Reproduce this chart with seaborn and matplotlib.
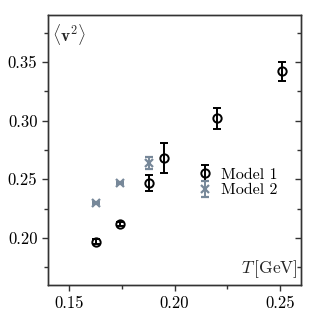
import matplotlib
matplotlib.use("Agg")
import matplotlib.pyplot as plt
import seaborn as sns
import numpy as np
import pandas as pd
from matplotlib.ticker import MultipleLocator, FormatStrFormatter

# Data
m1_T = [0.163, 0.174, 0.188, 0.195, 0.220, 0.251]
m1_v2 = [0.197, 0.212, 0.247, 0.268, 0.302, 0.342]
m1_err = [0.002, 0.002, 0.007, 0.013, 0.009, 0.008]

m2_T = [0.163, 0.174, 0.188]
m2_v2 = [0.230, 0.247, 0.264]
m2_err = [0.001, 0.001, 0.005]

labels = ["Model 1", "Model 2"]

sns.set_theme(style="ticks")
plt.rcParams["font.family"] = "serif"
plt.rcParams["font.serif"] = ["cmr10", "DejaVu Serif"]
plt.rcParams["mathtext.fontset"] = "cm"
plt.rcParams["axes.formatter.use_mathtext"] = True

fig = plt.figure(figsize=(3.17, 3.17), dpi=100)
ax = fig.add_axes([0.151, 0.101, 0.799, 0.852])

c1 = "black"
c2 = "#778899"
sc = "#333333"

ax.errorbar(m1_T, m1_v2, yerr=m1_err, fmt="o", mfc="none", mec=c1, color=c1,
            ms=6, mew=1.4, elinewidth=1.4, capsize=3, capthick=1.4, label=labels[0])
ax.errorbar(m2_T, m2_v2, yerr=m2_err, fmt="x", color=c2, mec=c2,
            ms=6, mew=1.6, elinewidth=1.4, capsize=3, capthick=1.4, label=labels[1])

ylim = (0.16, 0.39)
ax.set_xlim(0.14, 0.26)
ax.set_ylim(*ylim)
ax.xaxis.set_major_locator(MultipleLocator(0.05))
ax.xaxis.set_minor_locator(MultipleLocator(0.025))
ax.yaxis.set_major_locator(MultipleLocator(0.05))
ax.yaxis.set_minor_locator(MultipleLocator(0.025))
ax.xaxis.set_major_formatter(FormatStrFormatter("%.2f"))
ax.yaxis.set_major_formatter(FormatStrFormatter("%.2f"))

for s in ax.spines.values():
    s.set_linewidth(1.0)
    s.set_color(sc)

ax.tick_params(axis="both", which="major", direction="out", length=4, width=1.0,
               labelsize=12, color=sc, labelcolor="black")
ax.tick_params(axis="both", which="minor", direction="out", length=3, width=1.0,
               color=sc)

# right side inward ticks
axr = ax.twinx()
axr.set_ylim(*ylim)
axr.yaxis.set_major_locator(MultipleLocator(0.05))
axr.yaxis.set_minor_locator(MultipleLocator(0.025))
axr.tick_params(which="major", direction="in", length=4, width=1.0, labelright=False, color=sc)
axr.tick_params(which="minor", direction="in", length=3, width=1.0, color=sc)
for s in axr.spines.values():
    s.set_linewidth(1.0)
    s.set_color(sc)
axr.grid(False)

ax.text(0.015, 0.975, r"$\langle \mathbf{v}^2 \rangle$", transform=ax.transAxes,
        ha="left", va="top", fontsize=12.5)
ax.text(0.985, 0.02, r"$T\,[\mathrm{GeV}]$", transform=ax.transAxes,
        ha="right", va="bottom", fontsize=12.5)

leg = ax.legend(loc="center left", bbox_to_anchor=(0.545, 0.38), frameon=False,
                fontsize=11.5, handlelength=1.0, handletextpad=0.5, labelspacing=0.1,
                borderpad=0.2, labelcolor="black")

ax.grid(False)
fig.savefig("out.png", dpi=100)
